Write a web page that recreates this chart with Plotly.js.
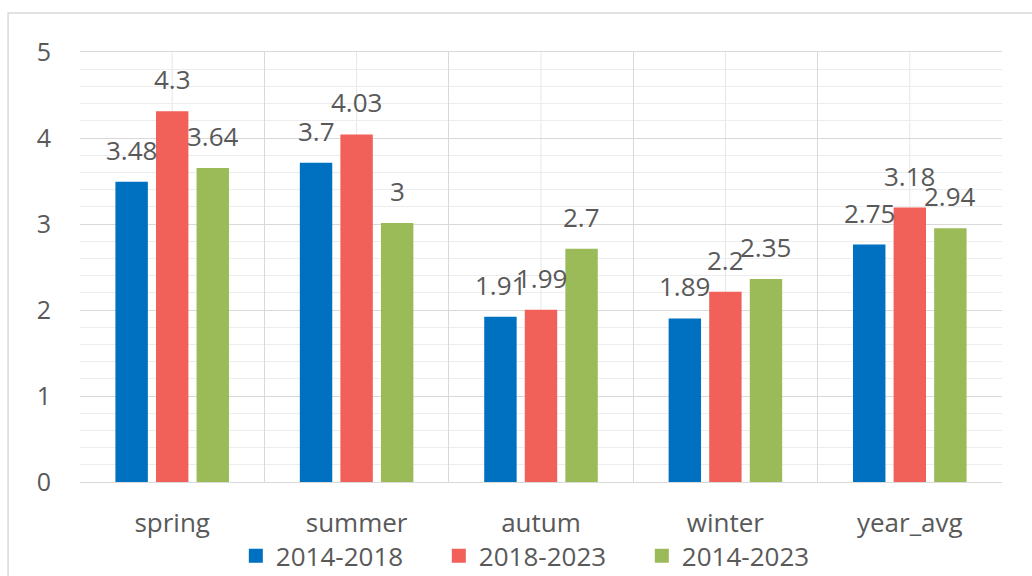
<!DOCTYPE html>
<html>
<head>
<meta charset="utf-8">
<script src="https://cdn.plot.ly/plotly-3.0.1.min.js"></script>
<style>html,body{margin:0;padding:0;background:#fff;}#chart{width:1032px;height:576px;}</style>
</head>
<body>
<div id="chart"></div>
<script>
const categories = ["spring", "summer", "autum", "winter", "year_avg"];
const seriesNames = ["2014-2018", "2018-2023", "2014-2023"];
const values2014_2018 = [3.48, 3.7, 1.91, 1.89, 2.75];
const values2018_2023 = [4.3, 4.03, 1.99, 2.2, 3.18];
const values2014_2023 = [3.64, 3, 2.7, 2.35, 2.94];
const seriesColors = ["#0070C0", "#F2605A", "#9BBB59"];
const yTicks = [0, 1, 2, 3, 4, 5];

const allSeries = [values2014_2018, values2018_2023, values2014_2023];
const textColor = "#595959";
const font = "'Open Sans', sans-serif";
const bargap = 0.34;

const traces = allSeries.map((vals, j) => ({
  type: "bar",
  name: seriesNames[j],
  x: categories,
  y: vals,
  marker: {color: seriesColors[j], line: {color: seriesColors[j], width: 2}},
  hoverinfo: "x+y+name"
}));

const slot = (1 - bargap) / allSeries.length;
const annotations = [];
allSeries.forEach((vals, j) => {
  vals.forEach((v, i) => {
    annotations.push({
      x: i + (j - (allSeries.length - 1) / 2) * slot,
      y: v,
      xref: "x", yref: "y",
      text: String(v),
      showarrow: false,
      yanchor: "middle",
      yshift: 33,
      font: {family: font, size: 26, color: textColor}
    });
  });
});

const shapes = categories.map((c, i) => ({
  type: "line", xref: "x", yref: "paper",
  x0: i, x1: i, y0: 0, y1: 1,
  line: {color: "#e6e6e6", width: 1},
  layer: "below"
}));
shapes.push({
  type: "rect", xref: "paper", yref: "paper",
  x0: -0.078, x1: 1.1, y0: -0.3, y1: 1.0907,
  line: {color: "#d9d9d9", width: 1.5},
  layer: "below"
});

const layout = {
  width: 1032, height: 576,
  margin: {l: 80, r: 30, t: 52, b: 94, autoexpand: false},
  paper_bgcolor: "#ffffff",
  plot_bgcolor: "#ffffff",
  font: {family: font, color: textColor, size: 26},
  barmode: "group",
  bargap: bargap,
  bargroupgap: 0.25,
  showlegend: true,
  legend: {
    orientation: "h",
    x: 0.169, xanchor: "left",
    y: -0.172, yanchor: "middle",
    font: {family: font, size: 26, color: textColor},
    entrywidth: 158,
    entrywidthmode: "pixels",
    traceorder: "normal"
  },
  xaxis: {
    type: "category",
    tickson: "boundaries",
    showgrid: true,
    gridcolor: "#d9d9d9",
    gridwidth: 1,
    ticks: "",
    showline: true,
    linecolor: "#d9d9d9",
    mirror: true,
    ticklabelstandoff: 18,
    tickfont: {family: font, size: 26, color: textColor},
    zeroline: false
  },
  yaxis: {
    range: [0, 5],
    tickvals: yTicks,
    showgrid: true,
    gridcolor: "#d9d9d9",
    gridwidth: 1,
    minor: {dtick: 0.2, showgrid: true, gridcolor: "#ededed", gridwidth: 1},
    ticks: "",
    zeroline: false,
    showline: false,
    ticklabelstandoff: 28,
    tickfont: {family: font, size: 25, color: textColor}
  },
  annotations: annotations,
  shapes: shapes
};

Plotly.newPlot("chart", traces, layout, {staticPlot: true});
</script>
</body>
</html>
